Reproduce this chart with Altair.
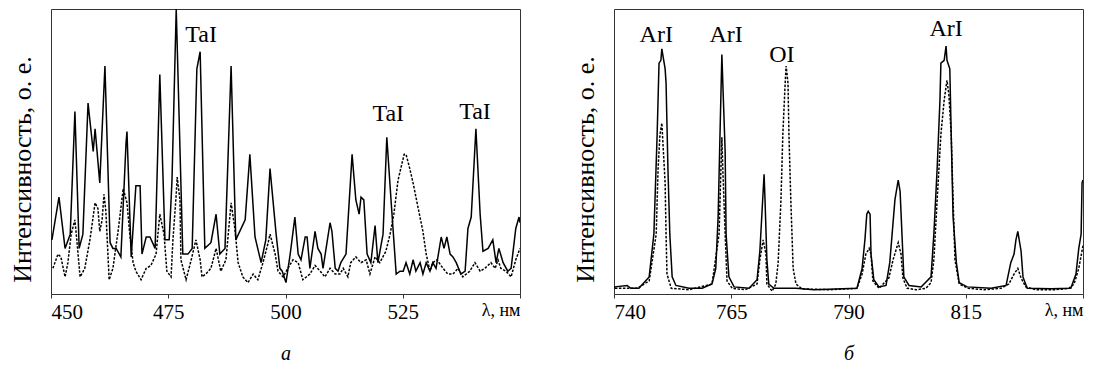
import altair as alt
import pandas as pd

SERIF = "Liberation Serif"

# ---------- panel а: 450–550 nm ----------
a_solid_nm = [450.2, 451.7, 453.0, 454.1, 455.1, 456.0, 456.8, 457.9, 459.0, 459.4,
              460.4, 461.5, 462.6, 463.2, 463.9, 464.9, 466.0, 466.2, 467.1, 468.1,
              469.0, 469.4, 470.3, 471.1, 472.2, 473.2, 474.3, 475.2, 475.8, 476.7,
              478.1, 479.2, 480.1, 481.1, 481.8, 482.8, 484.1, 485.2, 486.0, 487.1,
              488.4, 489.4, 491.4, 492.4, 493.5, 494.8, 495.8, 496.7, 498.0, 498.8,
              499.3, 500.1, 501.0, 502.0, 502.7, 503.3, 504.2, 504.6, 505.2, 506.3,
              506.9, 507.6, 508.0, 509.5, 509.9, 510.6, 511.2, 511.8, 512.9, 514.2,
              515.0, 515.7, 516.1, 516.7, 517.4, 518.2, 519.1, 519.7, 520.8, 521.6,
              522.5, 523.6, 524.4, 525.1, 525.7, 526.5, 527.2, 527.8, 528.7, 529.3,
              530.0, 530.8, 531.4, 532.1, 533.2, 533.8, 534.4, 535.1, 535.7, 536.4,
              537.4, 538.3, 538.9, 539.6, 540.6, 541.5, 542.1, 543.2, 544.2, 544.9,
              545.5, 546.4, 547.4, 548.1, 549.1, 549.8, 550.0]
a_solid_int = [19, 34, 16, 21, 64, 16, 21, 67, 50, 58,
               39, 80, 18, 16, 16, 13, 53, 57, 13, 38,
               38, 14, 20, 20, 16, 77, 19, 19, 40, 100,
               14, 14, 16, 79, 85, 16, 18, 28, 14, 16,
               80, 19, 26, 49, 20, 11, 19, 44, 21, 9,
               8, 4, 14, 27, 14, 12, 20, 20, 9, 22,
               16, 14, 9, 25, 22, 9, 8, 11, 14, 49,
               33, 28, 34, 33, 14, 11, 24, 11, 21, 55,
               33, 7, 8, 8, 11, 7, 12, 8, 11, 7,
               11, 8, 11, 9, 20, 16, 20, 14, 13, 11,
               7, 8, 23, 27, 58, 28, 15, 16, 19, 11,
               16, 11, 8, 9, 23, 27, 25]

a_dot_nm = [450.4, 451.5, 452.1, 453.0, 453.6, 454.3, 455.1, 455.5, 456.2, 457.2,
            458.3, 459.4, 460.0, 460.4, 460.9, 461.3, 461.7, 462.4, 463.2, 464.3,
            465.4, 466.2, 466.8, 467.5, 468.1, 469.2, 470.3, 471.3, 472.4, 473.2,
            474.1, 474.7, 475.6, 476.0, 476.7, 476.9, 477.5, 477.7, 478.8, 479.9,
            480.9, 481.8, 482.2, 483.0, 484.1, 485.2, 486.2, 487.3, 488.4, 489.2,
            489.9, 490.9, 492.0, 493.1, 494.1, 495.2, 496.3, 496.7, 497.8, 498.4,
            499.5, 500.5, 501.6, 502.7, 503.7, 505.2, 506.3, 507.4, 508.4, 509.5,
            510.6, 511.6, 512.3, 513.3, 513.9, 515.0, 516.1, 517.2, 518.0, 519.1,
            520.1, 521.4, 522.3, 523.1, 524.0, 525.3, 525.7, 526.5, 527.2, 528.3,
            529.3, 530.0, 530.8, 531.4, 532.3, 533.6, 534.6, 535.7, 536.8, 537.8,
            539.3, 540.4, 541.5, 542.5, 543.8, 544.7, 545.3, 545.9, 547.0, 548.1,
            549.1, 550.0]
a_dot_int = [9, 14, 13, 6, 11, 21, 26, 19, 6, 9,
             19, 32, 30, 22, 26, 35, 29, 5, 9, 22,
             37, 32, 21, 11, 8, 5, 9, 10, 14, 28,
             21, 8, 6, 19, 35, 41, 33, 12, 5, 12,
             19, 12, 6, 7, 9, 16, 8, 12, 32, 23,
             11, 6, 4, 7, 5, 11, 18, 21, 14, 8,
             6, 9, 12, 11, 5, 7, 10, 8, 6, 9,
             7, 7, 9, 6, 11, 13, 11, 12, 7, 13,
             11, 15, 21, 28, 40, 49, 49, 44, 39, 30,
             22, 14, 8, 11, 12, 9, 7, 7, 9, 6,
             8, 11, 8, 9, 11, 9, 12, 9, 8, 6,
             12, 16]

a_lab_text = ["TaI", "TaI", "TaI"]
a_lab_nm = [482.0, 521.9, 540.4]
a_lab_int = [91, 63, 64]

# ---------- panel б: 740–840 nm ----------
b_solid_nm = [740.0, 740.2, 742.8, 743.6, 745.3, 747.5, 748.5, 749.2, 749.6, 750.0,
              750.2, 750.4, 750.9, 751.1, 751.5, 751.9, 752.4, 753.2, 756.0, 758.8,
              760.9, 761.7, 762.2, 762.6, 763.0, 763.2, 763.7, 763.9, 764.5, 765.6,
              768.8, 770.5, 771.1, 771.6, 772.0, 772.2, 772.6, 773.0, 774.1, 778.8,
              782.6, 791.8, 792.9, 793.5, 793.9, 794.2, 794.6, 794.8, 795.4, 796.5,
              798.0, 798.8, 799.3, 799.9, 800.6, 801.0, 801.4, 801.8, 802.9, 805.5,
              806.1, 807.6, 808.2, 808.9, 809.5, 809.7, 810.4, 810.8, 811.0, 811.6,
              811.9, 812.3, 813.0, 813.6, 815.3, 820.4, 823.6, 824.6, 825.3, 825.7,
              826.1, 826.8, 827.2, 828.1, 833.2, 837.4, 838.5, 839.1, 839.6, 839.8,
              840.0]
b_solid_int = [2, 2.5, 3, 2, 2, 6, 21, 56, 81, 82,
               86, 84, 79, 74, 44, 21, 6, 3, 2, 2,
               3.5, 9, 27, 56, 84, 74, 50, 21, 6, 2.5,
               2, 5, 15, 30, 42, 33, 12, 3.5, 2, 2,
               1.5, 2, 9, 19, 28, 29, 28, 14, 5, 2.5,
               3, 11, 21, 33, 40, 36, 21, 6, 3, 2.5,
               3.5, 6, 21, 44, 68, 81, 82, 87, 82, 79,
               56, 27, 11, 4, 2.5, 2, 3, 11, 14, 19,
               22, 15, 6, 2, 1.8, 2, 7, 16, 21, 39,
               40]

b_dot_nm = [740.2, 745.0, 747.5, 749.0, 749.4, 749.8, 750.2, 750.4, 750.9, 751.1,
            751.3, 752.2, 756.0, 760.9, 762.4, 762.8, 763.0, 763.2, 763.7, 764.1,
            765.2, 768.0, 770.5, 771.1, 771.8, 772.4, 772.6, 773.7, 774.5, 775.0,
            775.6, 776.0, 776.5, 776.7, 777.1, 777.3, 777.7, 778.2, 778.8, 780.1,
            786.0, 791.8, 792.9, 793.7, 794.4, 794.8, 795.2, 796.5, 798.6, 799.5,
            800.6, 801.2, 801.6, 802.5, 804.5, 806.5, 807.6, 808.2, 808.9, 809.7,
            810.4, 811.0, 811.4, 811.9, 812.3, 812.7, 813.6, 815.5, 819.0, 822.5,
            824.2, 825.3, 826.1, 826.8, 827.8, 830.0, 834.0, 837.0, 838.1, 839.1,
            840.0]
b_dot_int = [2, 2, 4.6, 21, 44, 56, 60, 54, 39, 21,
             7, 2, 1.5, 3.5, 21, 44, 55, 44, 21, 4.6,
             2, 1.5, 3.5, 12, 19, 14, 3.5, 1, 3.5, 11,
             33, 56, 74, 80, 74, 56, 33, 9, 3.5, 1.8,
             1.5, 2, 7, 14, 16, 14, 4.6, 2, 5.6, 12,
             18, 14, 5.6, 2, 1.5, 2, 4, 12, 33, 56,
             68, 75, 70, 56, 33, 12, 3.5, 2, 1.5, 2,
             3.5, 7, 9, 5.6, 2.5, 1.5, 1.5, 2, 3.5, 9,
             17]

b_lab_text = ["ArI", "ArI", "OI", "ArI"]
b_lab_nm = [749.0, 763.9, 775.8, 810.8]
b_lab_int = [91, 91, 84, 93]


def panel(solid_nm, solid_int, dot_nm, dot_int, lab_text, lab_nm, lab_int,
          lo, hi, step, caption):
    ticks = list(range(lo, hi + 1, step))
    xs = alt.Scale(domain=[lo, hi], nice=False, zero=False)
    ys = alt.Scale(domain=[0, 100], nice=False, zero=True)
    x_axis = alt.Axis(
        values=ticks,
        labelExpr=f"datum.value == {hi} ? 'λ, нм' : datum.label",
        labelFontSize={"condition": {"test": f"datum.value == {hi}", "value": 18}, "value": 21},
        grid=False, domain=False, tickSize=4, tickColor="#333",
        labelPadding=3, labelFont=SERIF, labelColor="black",
        title=caption, titleFont=SERIF, titleFontSize=20, titleFontStyle="italic",
        titleFontWeight="normal", titleColor="black", titlePadding=21,
    )
    y_axis = alt.Axis(
        labels=False, ticks=False, domain=False, grid=False,
        title="Интенсивность, о. е.", titleFont=SERIF, titleFontSize=26,
        titleFontWeight="normal", titleColor="black", titlePadding=16,
        titleY=160, titleAlign="center",
    )
    x = alt.X("nm:Q", scale=xs, axis=x_axis)
    y = alt.Y("I:Q", scale=ys, axis=y_axis)

    dotted = alt.Chart(pd.DataFrame({"nm": dot_nm, "I": dot_int})).mark_line(
        color="black", strokeWidth=1.5, strokeDash=[2.5, 1.5], clip=True
    ).encode(x=x, y=y)
    solid = alt.Chart(pd.DataFrame({"nm": solid_nm, "I": solid_int})).mark_line(
        color="black", strokeWidth=1.5, clip=True
    ).encode(x=x, y=y)
    labels = alt.Chart(
        pd.DataFrame({"nm": lab_nm, "I": lab_int, "label": lab_text})
    ).mark_text(font=SERIF, fontSize=24, baseline="middle", align="center",
                color="black").encode(x=x, y=y, text="label:N")
    return alt.layer(dotted, solid, labels).properties(width=469, height=285)


left = panel(a_solid_nm, a_solid_int, a_dot_nm, a_dot_int,
             a_lab_text, a_lab_nm, a_lab_int, 450, 550, 25, "а")
right = panel(b_solid_nm, b_solid_int, b_dot_nm, b_dot_int,
              b_lab_text, b_lab_nm, b_lab_int, 740, 840, 25, "б")

chart = alt.hconcat(left, right, spacing=50).properties(
    padding={"left": 8, "top": 8, "right": 5, "bottom": 5},
    background="white",
).configure_view(stroke="#333", strokeWidth=1)

chart.save("out.html", embed_options={"renderer": "svg", "actions": False})
